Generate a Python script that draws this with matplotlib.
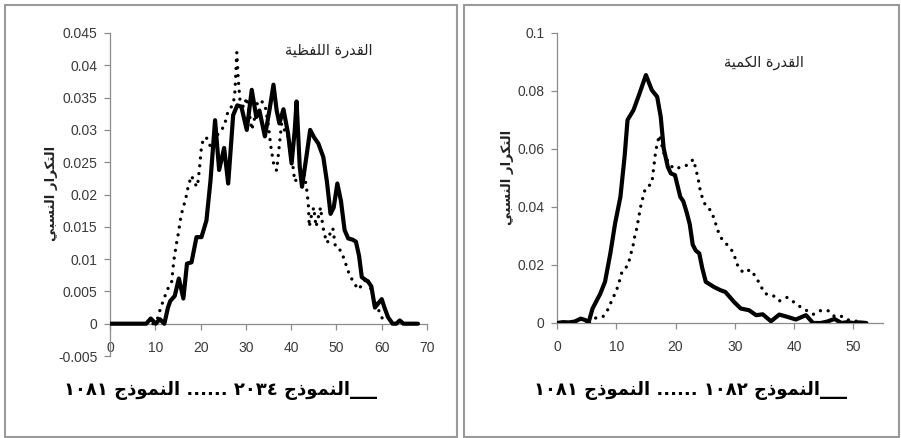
import re

import matplotlib
matplotlib.use("Agg")
from matplotlib import pyplot as plt
from matplotlib.patches import Rectangle


# left panel (verbal ability): model 2034 (solid) and model 1081 (dotted)
verbal_x_2034 = [0, 2, 4, 6, 8, 9, 10.1, 11, 12, 12.8, 13.3, 14.3, 15.2, 16.2,
                 17, 18, 19.1, 20.2, 21.3, 22.2, 23.2, 24.1, 25.2, 26.1, 27.2,
                 28.1, 29, 30.2, 31.3, 32.3, 33.0, 34.2, 35.2, 36.1, 36.8, 37.4,
                 38.3, 39.3, 40.1, 40.8, 41.2, 41.9, 42.4, 43.4, 44.2, 45.1,
                 46.0, 47.1, 47.9, 48.7, 49.4, 50.2, 51.0, 51.8, 52.6, 53.6,
                 54.3, 55.0, 55.6, 57.0, 57.7, 58.5, 59.3, 60.0, 60.6, 61.4,
                 62.4, 63.2, 64.0, 64.8, 66, 68]
verbal_y_2034 = [0, 0, 0, 0, 0, 0.0008, 0, 0.0007, 0, 0.0025, 0.0035, 0.0043,
                 0.007, 0.0039, 0.0093, 0.0095, 0.0134, 0.0134, 0.016, 0.0222,
                 0.0315, 0.0238, 0.0272, 0.0217, 0.0323, 0.0338, 0.0336, 0.030,
                 0.0362, 0.032, 0.033, 0.029, 0.033, 0.037, 0.033, 0.031,
                 0.0332, 0.0295, 0.0248, 0.030, 0.0344, 0.0243, 0.0212, 0.026,
                 0.030, 0.0288, 0.0279, 0.0258, 0.022, 0.017, 0.018, 0.0217,
                 0.019, 0.0145, 0.0132, 0.013, 0.0127, 0.0105, 0.0072, 0.0065,
                 0.0058, 0.0025, 0.0032, 0.0038, 0.0025, 0.001, 0, 0, 0.0005,
                 0, 0, 0]

verbal_x_1081 = [9.5, 10.3, 11.2, 12, 12.6, 13.6, 14.1, 14.7, 15.1, 15.7, 16.3,
                 16.9, 17.3, 18, 18.8, 19.3, 19.8, 20.2, 20.7, 21.4, 22.2, 23.5,
                 24.5, 25.2, 26.1, 27.2, 27.6, 28, 28.3, 28.7, 29.5, 30.2, 30.8,
                 31.3, 32, 32.6, 33.3, 34.2, 34.9, 35.6, 36.2, 36.8, 37.3, 37.9,
                 38.5, 39.2, 40.2, 40.8, 41.4, 42.1, 42.8, 43.4, 43.8, 44.0,
                 44.5, 45.0, 45.5, 46.0, 46.5, 47.0, 47.5, 48.0, 48.6, 49.2,
                 49.8, 51, 51.8, 52.9, 54, 54.8, 55.9, 56.7, 57.8, 58.5, 59.2,
                 60, 60.8]
verbal_y_1081 = [0, 0.0003, 0.0025, 0.004, 0.0052, 0.0064, 0.0098, 0.0125,
                 0.014, 0.0168, 0.0183, 0.0199, 0.0214, 0.0229, 0.0216, 0.0212,
                 0.0243, 0.0274, 0.0288, 0.0287, 0.0274, 0.029, 0.030, 0.0305,
                 0.033, 0.0339, 0.036, 0.042, 0.038, 0.0346, 0.0335, 0.035,
                 0.0325, 0.030, 0.032, 0.0345, 0.0345, 0.034, 0.031, 0.027,
                 0.0245, 0.0237, 0.027, 0.031, 0.030, 0.0295, 0.0255, 0.022,
                 0.0225, 0.0225, 0.0235, 0.021, 0.0185, 0.015, 0.0168, 0.018,
                 0.015, 0.0165, 0.018, 0.015, 0.0135, 0.0125, 0.014, 0.0148,
                 0.0118, 0.0113, 0.0098, 0.0075, 0.0062, 0.0053, 0.0062, 0.0072,
                 0.005, 0.0036, 0.0023, 0.001, 0]

# right panel (quantitative ability): model 1082 (solid) and model 1081 (dotted)
quant_x_1082 = [0, 1, 2, 3, 4, 4.8, 5.3, 6, 7.3, 8.1, 9, 9.8, 10.7, 11.4, 11.9,
                12.9, 13.9, 15, 16, 16.9, 17.5, 18, 18.7, 19.2, 19.9, 20.8,
                21.3, 21.9, 22.4, 22.9, 23.4, 24.0, 24.5, 25.1, 26.5, 27.6,
                28.4, 29.9, 31, 32.4, 33.6, 34.7, 36.1, 37.5, 38.9, 40.3, 42,
                43.2, 44.5, 45.6, 46.8, 48, 49, 50, 51, 52.2]
quant_y_1082 = [0, 0.0003, 0.0002, 0.0005, 0.0015, 0.001, 0, 0.005, 0.0101,
                0.0142, 0.024, 0.0343, 0.0435, 0.0573, 0.070, 0.0734, 0.079,
                0.0855, 0.0803, 0.078, 0.0711, 0.0602, 0.0538, 0.0516, 0.051,
                0.0435, 0.042, 0.038, 0.034, 0.027, 0.025, 0.024, 0.019,
                0.0142, 0.0124, 0.0113, 0.0107, 0.0072, 0.005, 0.0044, 0.0027,
                0.003, 0.0006, 0.0029, 0.0021, 0.0012, 0.0027, 0, 0, 0.0005,
                0.0014, 0, 0.0003, 0, 0.0002, 0]

quant_x_1081 = [5.5, 6.7, 7.8, 8.7, 9.3, 10, 10.5, 10.95, 12, 12.4, 12.8, 13.1,
                13.5, 13.8, 14.1, 14.5, 14.9, 16, 16.2, 16.4, 16.6, 16.9, 17.3,
                17.6, 17.9, 18.2, 19.6, 20.8, 21.9, 23, 23.4, 23.8, 24.1, 24.5,
                25.1, 26, 26.6, 27.1, 27.8, 28.6, 29.4, 30.1, 30.6, 31.5, 32.6,
                33.6, 34.3, 35.1, 36.4, 37.5, 38.8, 39.9, 41.1, 42.2, 43.3,
                44.6, 45.8, 46.9, 48.1, 49.2, 50.6, 51.5]
quant_y_1081 = [0, 0.002, 0.0023, 0.005, 0.0081, 0.011, 0.0142, 0.0176, 0.020,
                0.0234, 0.0263, 0.0297, 0.033, 0.0366, 0.040, 0.0433, 0.0464,
                0.0481, 0.0516, 0.055, 0.0585, 0.0619, 0.0648, 0.062, 0.0596,
                0.0573, 0.0533, 0.0536, 0.0544, 0.0564, 0.0533, 0.0499, 0.0464,
                0.0433, 0.0403, 0.0387, 0.0354, 0.032, 0.029, 0.0272, 0.0254,
                0.0222, 0.0191, 0.0173, 0.0184, 0.0158, 0.013, 0.0101, 0.0096,
                0.0076, 0.0088, 0.0073, 0.0055, 0.0042, 0.003, 0.0044, 0.0042,
                0.0021, 0.0023, 0.001, 0.0006, 0]

verbal_title = "القدرة اللفظية"
quant_title = "القدرة الكمية"
y_label = "التكرار النسبي"
verbal_legend = "___النموذج ٢٠٣٤ ...... النموذج ١٠٨١"
quant_legend = "___النموذج ١٠٨٢ ...... النموذج ١٠٨١"

verbal_xticks = [0, 10, 20, 30, 40, 50, 60, 70]
verbal_yticks = [-0.005, 0, 0.005, 0.01, 0.015, 0.02, 0.025, 0.03, 0.035,
                 0.04, 0.045]
quant_xticks = [0, 10, 20, 30, 40, 50]
quant_yticks = [0, 0.02, 0.04, 0.06, 0.08, 0.1]


# matplotlib has no arabic shaping, so pick presentation forms by hand
# (isolated, final, initial, medial)
FORMS = {
    "ا": (0xFE8D, 0xFE8E, None, None),
    "ب": (0xFE8F, 0xFE90, 0xFE91, 0xFE92),
    "ة": (0xFE93, 0xFE94, None, None),
    "ت": (0xFE95, 0xFE96, 0xFE97, 0xFE98),
    "ج": (0xFE9D, 0xFE9E, 0xFE9F, 0xFEA0),
    "د": (0xFEA9, 0xFEAA, None, None),
    "ذ": (0xFEAB, 0xFEAC, None, None),
    "ر": (0xFEAD, 0xFEAE, None, None),
    "س": (0xFEB1, 0xFEB2, 0xFEB3, 0xFEB4),
    "ظ": (0xFEC5, 0xFEC6, 0xFEC7, 0xFEC8),
    "ف": (0xFED1, 0xFED2, 0xFED3, 0xFED4),
    "ق": (0xFED5, 0xFED6, 0xFED7, 0xFED8),
    "ك": (0xFED9, 0xFEDA, 0xFEDB, 0xFEDC),
    "ل": (0xFEDD, 0xFEDE, 0xFEDF, 0xFEE0),
    "م": (0xFEE1, 0xFEE2, 0xFEE3, 0xFEE4),
    "ن": (0xFEE5, 0xFEE6, 0xFEE7, 0xFEE8),
    "و": (0xFEED, 0xFEEE, None, None),
    "ي": (0xFEF1, 0xFEF2, 0xFEF3, 0xFEF4),
}


def arabic(text):
    out = []
    for i, ch in enumerate(text):
        if ch not in FORMS:
            out.append(ch)
            continue
        prev = text[i - 1] if i > 0 else ""
        nxt = text[i + 1] if i + 1 < len(text) else ""
        f = FORMS[ch]
        join_prev = prev in FORMS and FORMS[prev][2] is not None
        join_next = nxt in FORMS and f[2] is not None
        if join_prev and join_next:
            code = f[3]
        elif join_prev:
            code = f[1]
        elif join_next:
            code = f[2]
        else:
            code = f[0]
        out.append(chr(code))
    vis = "".join(out)[::-1]
    # numbers keep left-to-right order
    return re.sub("[\u0660-\u0669]+", lambda m: m.group()[::-1], vis)


plt.rcParams["font.family"] = ["Liberation Sans", "DejaVu Sans"]

W, H = 901, 438
fig = plt.figure(figsize=(W / 100, H / 100), dpi=100)

grey = "#8c8c8c"
tick_col = "#3a3a3a"


def px(x0, y0, x1, y1):
    # pixel box (top-left origin) -> figure fraction rect
    return [x0 / W, 1 - y1 / H, (x1 - x0) / W, (y1 - y0) / H]


def style(ax, xticks, yticks):
    for s in ["top", "right"]:
        ax.spines[s].set_visible(False)
    ax.spines["bottom"].set_position(("data", 0))
    for s in ["left", "bottom"]:
        ax.spines[s].set_color(grey)
        ax.spines[s].set_linewidth(0.9)
    ax.set_xticks(xticks)
    ax.set_yticks(yticks)
    ax.set_yticklabels(["%g" % v for v in yticks])
    ax.tick_params(axis="both", colors=grey, labelcolor=tick_col,
                   labelsize=10, length=4, width=0.9, direction="out")
    ax.tick_params(axis="x", pad=8.5)
    ax.tick_params(axis="y", pad=5)
    ax.set_facecolor("none")


solid_kw = dict(color="black", lw=3.0, solid_joinstyle="round",
                solid_capstyle="round", zorder=3)
dot_kw = dict(color="black", lw=2.4, linestyle=(0, (0.01, 2.35)),
              dash_capstyle="round", zorder=4)

# left panel
ax1 = fig.add_axes(px(110, 33, 427, 356))
ax1.plot(verbal_x_2034, verbal_y_2034, **solid_kw)
ax1.plot(verbal_x_1081, verbal_y_1081, **dot_kw)
ax1.set_xlim(0, 70)
ax1.set_ylim(-0.005, 0.045)
style(ax1, verbal_xticks, verbal_yticks)

# right panel
ax2 = fig.add_axes(px(557, 33, 883, 323))
ax2.plot(quant_x_1082, quant_y_1082, **solid_kw)
ax2.plot(quant_x_1081, quant_y_1081, **dot_kw)
ax2.set_xlim(0, 55)
ax2.set_ylim(0, 0.1)
style(ax2, quant_xticks, quant_yticks)

ar = ["DejaVu Sans"]
fig.text(329 / W, 1 - 50 / H, arabic(verbal_title), family=ar, fontsize=10.5,
         ha="center", va="center", color="#222222")
fig.text(764 / W, 1 - 62 / H, arabic(quant_title), family=ar, fontsize=10.5,
         ha="center", va="center", color="#222222")
fig.text(52 / W, 1 - 193 / H, arabic(y_label), family=ar, fontsize=9.5,
         fontweight="semibold", rotation=90, ha="center", va="center",
         color="#222222")
fig.text(507 / W, 1 - 177 / H, arabic(y_label), family=ar, fontsize=9.5,
         fontweight="semibold", rotation=90, ha="center", va="center",
         color="#222222")
fig.text(220 / W, 1 - 390 / H, arabic(verbal_legend), family=ar, fontsize=13,
         fontweight="bold", ha="center", va="center")
fig.text(690 / W, 1 - 390 / H, arabic(quant_legend), family=ar, fontsize=13,
         fontweight="bold", ha="center", va="center")

# panel frames
for box in [(5, 5, 457, 437), (464, 5, 899, 437)]:
    r = px(*box)
    fig.patches.append(Rectangle((r[0], r[1]), r[2], r[3],
                                 transform=fig.transFigure, fill=False,
                                 edgecolor="#9a9a9a", lw=1.5))

fig.savefig("out.png", dpi=100)
